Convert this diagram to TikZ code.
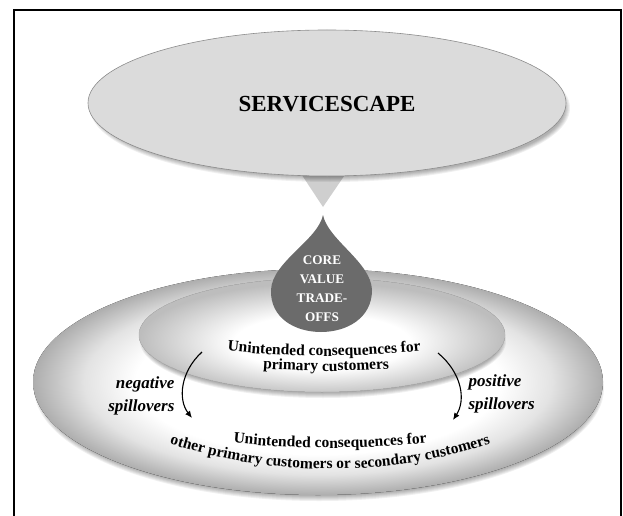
\documentclass[tikz,border=0pt]{standalone}
\usepackage{fontspec}
\setmainfont{Liberation Serif}
\usetikzlibrary{decorations.text,arrows.meta}
\pgfdeclareradialshading{outershade}{\pgfpoint{0bp}{0bp}}{color(0bp)=(white); color(16bp)=(white); color(20.5bp)=(black!11); color(25bp)=(black!32); color(50bp)=(black!32)}
\pgfdeclareradialshading{innershade}{\pgfpoint{0bp}{-4bp}}{color(0bp)=(white); color(12bp)=(white); color(25bp)=(black!26); color(50bp)=(black!26)}
\tikzset{
  lab/.style={font=\bfseries\itshape\fontsize{17}{23}\selectfont},
  spill/.style={line width=1.1pt,-{Latex[length=7pt,width=6pt]}},
  shadowlayer/.style={fill=black,opacity=0.06},
}
\begin{document}
\begin{tikzpicture}[x=1pt,y=1pt]
\useasboundingbox (0,-516) rectangle (623,0);
% frame
\draw[line width=2pt] (14,-530) -- (14,-10) -- (621,-10) -- (621,-530);
% outer ellipse shadow
\foreach \k in {0,...,5}
  \fill[shadowlayer] (319,-388) ellipse [x radius={285-\k}, y radius={113-\k}];
\fill[shading=outershade] (318,-382) ellipse [x radius=285, y radius=113];
% inner ellipse shadow
\foreach \k in {0,...,5}
  \fill[shadowlayer] (323,-341) ellipse [x radius={183-\k}, y radius={57-\k}];
\fill[shading=innershade] (322,-335) ellipse [x radius=183, y radius=57];
\draw[black!28, line width=0.5pt] (322,-335) ellipse [x radius=183, y radius=57];
% drop
\fill[black!58] (323,-215) .. controls (318,-240) and (272,-262) .. (271,-290)
  .. controls (270,-318) and (295,-332) .. (321,-332)
  .. controls (347,-332) and (372,-318) .. (372,-290)
  .. controls (371,-262) and (328,-240) .. (323,-215) -- cycle;
\node[align=center, text=white, font=\bfseries\fontsize{13.2}{19}\selectfont, inner sep=0pt] (core) at (322,-289) {CORE\\VALUE\\TRADE-\\OFFS};
% triangle
\fill[black!19] (292,-160) -- (355,-160) -- (323,-207) -- cycle;
% top ellipse shadow
\foreach \k in {0,...,5}
  \fill[shadowlayer] (330,-108) ellipse [x radius={240-\k}, y radius={74-\k}];
\filldraw[fill=black!14, draw=black!45, line width=0.6pt] (327,-103) ellipse [x radius=239, y radius=73];
\node[font=\bfseries\fontsize{23}{26}\selectfont] (svc) at (327,-104) {SERVICESCAPE};
% curved texts
\path[decorate, decoration={text along path, text align=center,
  text={|\bfseries\fontsize{15.5}{18}\selectfont|Unintended consequences for}}]
  (324,544) ++(250:900pt) arc[start angle=250, end angle=290, radius=900pt];
\path[decorate, decoration={text along path, text align=center,
  text={|\bfseries\fontsize{15.5}{18}\selectfont|primary customers}}]
  (326,529) ++(250:900pt) arc[start angle=250, end angle=290, radius=900pt];
\path[decorate, decoration={text along path, text align=center,
  text={|\bfseries\fontsize{15.5}{18}\selectfont|Unintended consequences for}}]
  (330,452) ++(250:900pt) arc[start angle=250, end angle=290, radius=900pt];
\path[decorate, decoration={text along path, text align=center,
  text={|\bfseries\fontsize{15.5}{18}\selectfont|other primary customers or secondary customers}}]
  (330,51) ++(235:520pt) arc[start angle=235, end angle=305, radius=520pt];
% spillover labels
\node[lab, align=right, anchor=east] (neg) at (178,-396) {negative\\spillovers};
\node[lab, align=left, anchor=west] (pos) at (465,-394) {positive\\spillovers};
% arrows
\coordinate (nS) at (202,-352);
\coordinate (nE) at (192,-418);
\coordinate (pS) at (438,-353);
\coordinate (pE) at (453,-420);
\draw[spill] (nS) .. controls (180,-372) and (178,-400) .. (nE);
\draw[spill] (pS) .. controls (462,-373) and (466,-400) .. (pE);
\end{tikzpicture}
\end{document}
